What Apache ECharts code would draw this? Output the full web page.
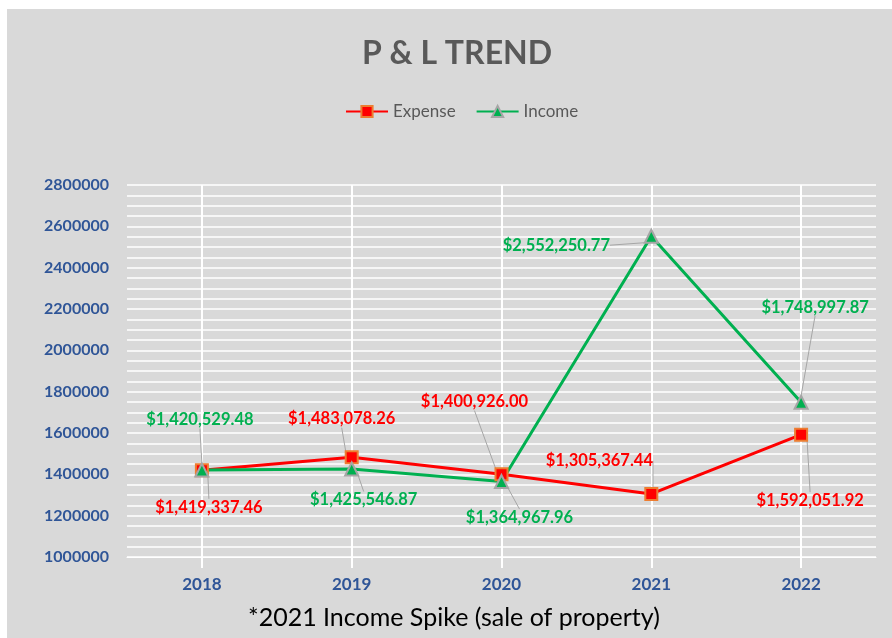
<!DOCTYPE html>
<html>
<head>
<meta charset="utf-8">
<script src="https://cdn.jsdelivr.net/npm/echarts@6/dist/echarts.min.js"></script>
<style>
  html, body { margin: 0; padding: 0; background: #ffffff; }
  #pnlTrend { position: absolute; left: 7px; top: 9px; width: 885px; height: 629px; }
</style>
</head>
<body>
<div id="pnlTrend"></div>
<script>
const years = ["2018", "2019", "2020", "2021", "2022"];
const expense = [1419337.46, 1483078.26, 1400926.0, 1305367.44, 1592051.92];
const income = [1420529.48, 1425546.87, 1364967.96, 2552250.77, 1748997.87];

// label offsets from each marker (dx, dy), like the hand-placed excel labels
const expenseLabelShift = [[7, 37], [-10, -38], [-27, -72], [-52, -33], [9, 66]];
const incomeLabelShift = [[-2, -50], [12, 31], [18, 36], [-95, 9], [14, -95]];

const chart = echarts.init(document.getElementById("pnlTrend"));

const fmtMoney = (v) =>
  "$" + v.toLocaleString("en-US", { minimumFractionDigits: 2, maximumFractionDigits: 2 });

const labelFont = { fontFamily: "Lato", fontWeight: "bold", fontSize: 16.5 };

const option = {
  backgroundColor: "#d9d9d9",
  animation: false,
  textStyle: { fontFamily: "Lato" },
  title: {
    text: "P & L TREND",
    left: 445,
    top: 24,
    textAlign: "center",
    textStyle: { color: "#595959", fontSize: 32, fontWeight: "bold", fontFamily: "Lato" },
  },
  legend: {
    left: 333,
    top: 89,
    itemWidth: 42,
    itemHeight: 14,
    itemGap: 20,
    textStyle: { color: "#595959", fontSize: 17, fontFamily: "Lato" },
    data: ["Expense", "Income"],
  },
  grid: { left: 120, right: 16, top: 176, bottom: 81 },
  xAxis: {
    type: "category",
    data: years,
    axisLine: { lineStyle: { color: "#ffffff", width: 1 } },
    axisTick: { show: true, alignWithLabel: true, length: 11, lineStyle: { color: "#ffffff", width: 2 } },
    splitLine: { show: true, alignWithLabel: true, lineStyle: { color: "#ffffff", width: 2 } },
    axisLabel: { color: "#2f5597", fontSize: 17, fontWeight: "bold", fontFamily: "Lato", margin: 19 },
  },
  yAxis: {
    type: "value",
    min: 1000000,
    max: 2800000,
    interval: 200000,
    axisLine: { show: false },
    axisTick: { show: false },
    axisLabel: {
      color: "#2f5597",
      fontSize: 16,
      fontWeight: "bold",
      fontFamily: "Lato",
      margin: 18,
      formatter: (v) => String(v),
    },
    splitLine: { show: true, lineStyle: { color: "#ffffff", width: 1.5 } },
    minorTick: { show: false, splitNumber: 4 },
    minorSplitLine: { show: true, lineStyle: { color: "#ffffff", width: 1.5 } },
  },
  series: [
    {
      name: "Expense",
      type: "line",
      data: expense,
      color: "#ff0000",
      symbol: "rect",
      symbolSize: 12,
      lineStyle: { color: "#ff0000", width: 3 },
      itemStyle: { color: "#ff0000", borderColor: "#ed7d31", borderWidth: 2 },
      label: {
        show: true,
        position: "inside",
        color: "#ff0000",
        ...labelFont,
        formatter: (p) => fmtMoney(p.value),
      },
      labelLine: { show: true, lineStyle: { color: "#a6a6a6", width: 1 } },
      labelLayout: (p) => ({ dx: expenseLabelShift[p.dataIndex][0], dy: expenseLabelShift[p.dataIndex][1] }),
      emphasis: { disabled: true },
    },
    {
      name: "Income",
      type: "line",
      data: income,
      color: "#00b050",
      symbol: "triangle",
      symbolSize: 13,
      lineStyle: { color: "#00b050", width: 3 },
      itemStyle: { color: "#00b050", borderColor: "#a5a5a5", borderWidth: 2 },
      label: {
        show: true,
        position: "inside",
        color: "#00b050",
        ...labelFont,
        formatter: (p) => fmtMoney(p.value),
      },
      labelLine: { show: true, lineStyle: { color: "#a6a6a6", width: 1 } },
      labelLayout: (p) => ({ dx: incomeLabelShift[p.dataIndex][0], dy: incomeLabelShift[p.dataIndex][1] }),
      emphasis: { disabled: true },
    },
  ],
  graphic: [
    {
      type: "text",
      left: 241,
      top: 596,
      style: {
        text: "*2021 Income Spike (sale of property)",
        fill: "#000000",
        font: "25px Lato",
      },
    },
  ],
};

chart.setOption(option);

window.addEventListener("resize", () => chart.resize());
</script>
</body>
</html>
